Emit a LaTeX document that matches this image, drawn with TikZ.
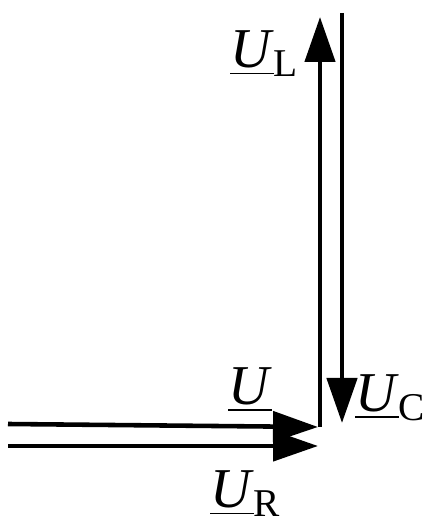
\documentclass[tikz,border=0pt]{standalone}
\usepackage{fontspec}
\setmainfont{Liberation Serif}
\usetikzlibrary{arrows.meta}

\newcommand{\phasor}[2]{\underline{\textit{#1}}\textsubscript{#2}}

\begin{document}
\begin{tikzpicture}[
    vec/.style={-{Triangle[length=4.5mm, width=3mm]}, line width=1.3pt},
    lbl/.style={inner sep=0pt, font=\fontsize{16}{18}\selectfont}
]
\useasboundingbox (0,0) rectangle (4.31,5.23);
\coordinate (uRs) at (0.08,0.77);
\coordinate (uRe) at (3.18,0.77);
\coordinate (uS) at (0.08,0.99);
\coordinate (uE) at (3.18,0.96);
\coordinate (uLe) at (3.20,5.06);
\coordinate (uCs) at (3.42,5.10);
\coordinate (uCe) at (3.42,1.00);

\draw[vec] (uRs) -- (uRe);
\draw[vec] (uS) -- (uE);
\draw[vec] (uE -| uLe) -- (uLe);
\draw[vec] (uCs) -- (uCe);

\node[lbl] (labL) at (2.65,4.69) {\phasor{U}{L}};
\node[lbl] (labC) at (3.91,1.25) {\phasor{U}{C}};
\node[lbl] (labU) at (2.50,1.33) {\underline{\textit{U}}};
\node[lbl] (labR) at (2.46,0.29) {\phasor{U}{R}};
\end{tikzpicture}
\end{document}
